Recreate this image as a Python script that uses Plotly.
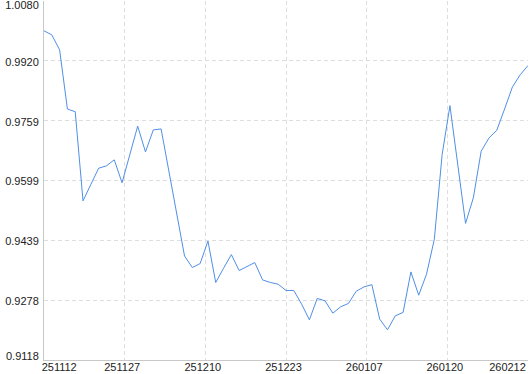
import plotly.graph_objects as go

# ---- data ----
values = [
    1.0000, 0.99892, 0.99491, 0.97906, 0.97834, 0.95443, 0.95884, 0.96319,
    0.96383, 0.96544, 0.95929, 0.96685, 0.97447, 0.96757, 0.97345, 0.97372,
    0.96231, 0.95109, 0.93968, 0.93658, 0.93764, 0.94368, 0.93257, 0.93639,
    0.94005, 0.93577, 0.93684, 0.93791, 0.93326, 0.93257, 0.93211, 0.93043,
    0.93043, 0.92677, 0.92257, 0.92829, 0.92765, 0.92436, 0.92605, 0.92696,
    0.93024, 0.93139, 0.93198, 0.92276, 0.91990, 0.92364, 0.92455, 0.93540,
    0.92917, 0.93479, 0.94414, 0.96685, 0.97995, 0.96463, 0.94841, 0.95528,
    0.96773, 0.97131, 0.97335, 0.97906, 0.98494, 0.98823, 0.99071,
]
x_tick_labels = ["251112", "251127", "251210", "251223", "260107", "260120", "260212"]
y_tick_labels = ["0.9118", "0.9278", "0.9439", "0.9599", "0.9759", "0.9920", "1.0080"]
y_min, y_max = 0.9118, 1.0080

# ---- layout geometry ----
W, H = 530, 374
ml, mr, mt, mb = 44, 2, 1, 14
plot_w = W - ml - mr
plot_h = H - mt - mb
n = len(values)
x_idx = list(range(n))
x_last = n - 1
px_per_x = plot_w / x_last
unit_per_px_y = (y_max - y_min) / plot_h

x_grid = [x_last * k / 6 for k in range(7)]
y_grid = [y_min + k * (y_max - y_min) / 6 for k in range(7)]

# label offsets (pixels) to mimic the reference's edge-adjusted labels
x_off_px = [15.2] + [-2.5] * 5 + [-20.5]
y_down_px = [-3.5] + [1.0] * 5 + [4.5]   # positive = shift label downward
x_label_pos = [g + o / px_per_x for g, o in zip(x_grid, x_off_px)]
y_label_pos = [g - o * unit_per_px_y for g, o in zip(y_grid, y_down_px)]

grid_color = "#dddddd"
axis_color = "#c8c8c8"
font = dict(family="Liberation Sans, Arial, sans-serif", size=11, color="#222222")

fig = go.Figure(
    go.Scatter(
        x=x_idx, y=values, mode="lines",
        line=dict(color="#4f8fe6", width=1),
        hoverinfo="skip",
    )
)

fig.update_layout(
    width=W, height=H,
    margin=dict(l=ml, r=mr, t=mt, b=mb, pad=0),
    paper_bgcolor="white", plot_bgcolor="white",
    showlegend=False, font=font,
    xaxis=dict(
        range=[0, x_last], showgrid=False, zeroline=False,
        showline=True, linecolor=axis_color, linewidth=1,
        tickmode="array", tickvals=x_label_pos, ticktext=x_tick_labels,
        ticks="", tickfont=font, automargin=False, ticklabelstandoff=-3,
        ticklabeloverflow="allow",
        minor=dict(tickmode="array", tickvals=x_grid, showgrid=True,
                   gridcolor=grid_color, griddash="4px,3px", gridwidth=1, ticks=""),
    ),
    yaxis=dict(
        range=[y_min, y_max], showgrid=False, zeroline=False,
        showline=True, linecolor=axis_color, linewidth=1,
        tickmode="array", tickvals=y_label_pos, ticktext=y_tick_labels,
        ticks="", tickfont=font, automargin=False, ticklabelstandoff=2,
        ticklabeloverflow="allow",
        minor=dict(tickmode="array", tickvals=y_grid, showgrid=True,
                   gridcolor=grid_color, griddash="4px,3px", gridwidth=1, ticks=""),
    ),
)

fig.write_html("out.html")
